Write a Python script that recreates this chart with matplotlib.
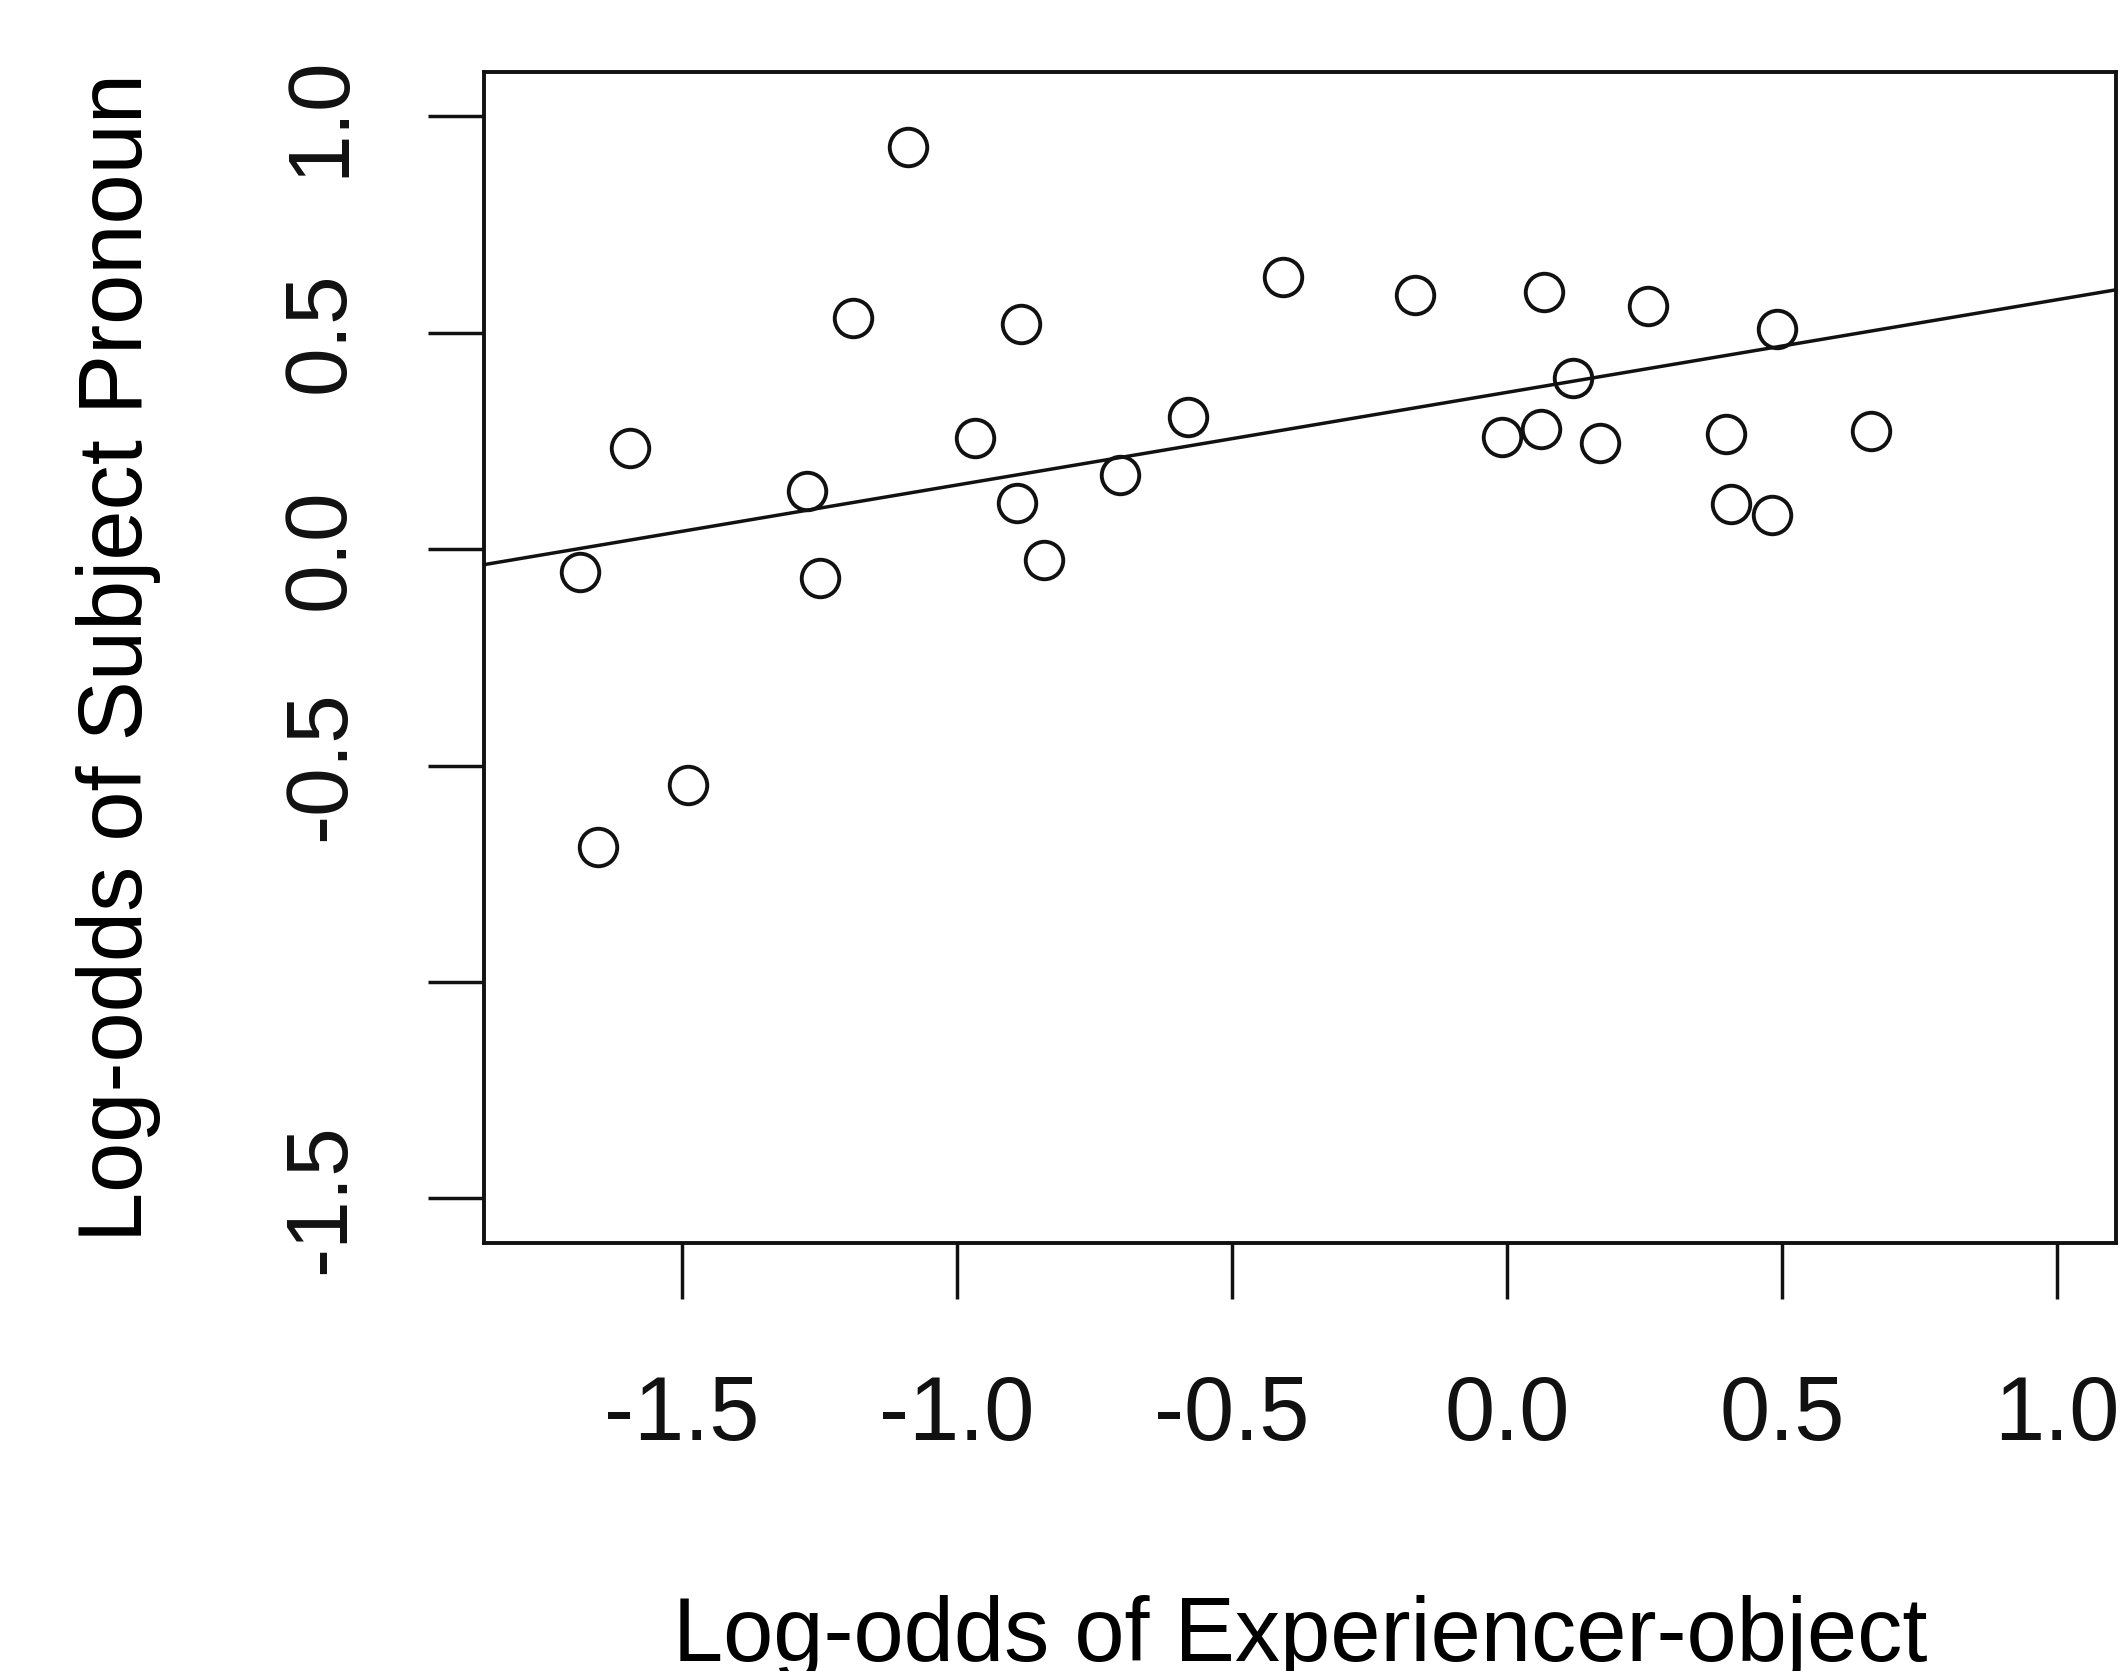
import matplotlib.pyplot as plt

# valores
exp_obj = [-1.089, -1.595, -1.686, -1.652, -1.489, -1.272, -1.249, -1.190,
           -0.968, -0.884, -0.891, -0.842, -0.704, -0.580, -0.407, -0.168,
           -0.010, 0.062, 0.067, 0.119, 0.168, 0.257, 0.398, 0.407,
           0.481, 0.491, 0.662]
subj_pron = [0.928, 0.234, -0.053, -0.688, -0.544, 0.134, -0.066, 0.534,
             0.256, 0.519, 0.106, -0.025, 0.172, 0.306, 0.628, 0.588,
             0.259, 0.278, 0.594, 0.394, 0.244, 0.5625, 0.266, 0.103,
             0.078, 0.509, 0.272]
intercepto = 0.362
pendiente = 0.214

xticks = [-1.5, -1.0, -0.5, 0.0, 0.5, 1.0]
xtick_labels = ["-1.5", "-1.0", "-0.5", "0.0", "0.5", "1.0"]
yticks = [-1.5, -1.0, -0.5, 0.0, 0.5, 1.0]
ytick_labels = ["-1.5", "", "-0.5", "0.0", "0.5", "1.0"]

plt.rcParams['font.family'] = ['Liberation Sans', 'DejaVu Sans']

fig = plt.figure(figsize=(21.21, 16.71), dpi=100)
ax = fig.add_axes([484 / 2121, 1 - 1243 / 1671, (2116 - 484) / 2121, (1243 - 72) / 1671])

ax.plot(exp_obj, subj_pron, 'o', ms=27, mfc='none', mec='#111111', mew=2.8)
xmin, xmax = -1.86, 1.107
ax.plot([xmin, xmax], [intercepto + pendiente * xmin, intercepto + pendiente * xmax],
        color='#111111', lw=2.5)
ax.set_xlim(xmin, xmax)
ax.set_ylim(-1.603, 1.102)

ax.set_xticks(xticks)
ax.set_xticklabels(xtick_labels, fontsize=65)
ax.set_yticks(yticks)
ax.set_yticklabels(ytick_labels, rotation=90, va='center', fontsize=63)

for s in ax.spines.values():
    s.set_linewidth(2.8)
    s.set_color('#111111')
ax.tick_params(axis='both', length=40, width=2.5, colors='#111111')
ax.tick_params(axis='x', pad=54)
ax.tick_params(axis='y', pad=48)

ax.set_xlabel("Log-odds of Experiencer-object", fontsize=65, labelpad=98)
ax.set_ylabel("Log-odds of Subject Pronoun", fontsize=65, labelpad=86)

plt.savefig("out.png", dpi=100)
